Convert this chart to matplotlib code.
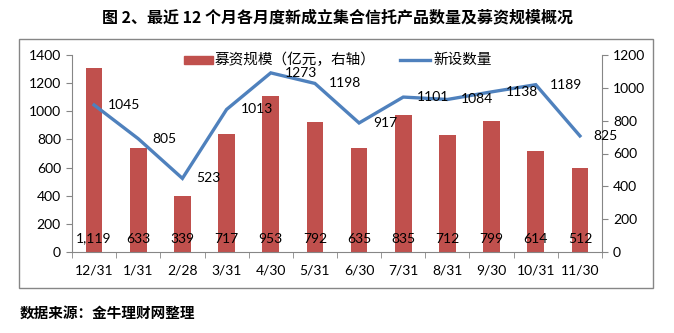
import matplotlib
matplotlib.use("Agg")
import matplotlib.pyplot as plt
from matplotlib.patches import Rectangle
import numpy as np

plt.rcParams['font.family'] = ['Noto Sans CJK SC', 'DejaVu Sans']

months = ["12/31", "1/31", "2/28", "3/31", "4/30", "5/31", "6/30", "7/31", "8/31", "9/30", "10/31", "11/30"]
scale = [1119, 633, 339, 717, 953, 792, 635, 835, 712, 799, 614, 512]      # 募资规模（亿元，右轴）
count = [1045, 805, 523, 1013, 1273, 1198, 917, 1101, 1084, 1138, 1189, 825]  # 新设数量
left_ticks = [0, 200, 400, 600, 800, 1000, 1200, 1400]
right_ticks = [0, 200, 400, 600, 800, 1000, 1200]

title = "图 2、最近 12 个月各月度新成立集合信托产品数量及募资规模概况"
source = "数据来源：金牛理财网整理"
bar_name = "募资规模（亿元，右轴）"
line_name = "新设数量"

num_font = "Lato"
red = "#C0504D"
blue = "#4F81BD"
grey = "#868686"

fig = plt.figure(figsize=(6.74, 3.33), dpi=100)
W, H = 674, 333
ax = fig.add_axes([72 / W, 1 - 252 / H, (602 - 72) / W, (252 - 55) / H])
ax2 = ax.twinx()

x = np.arange(len(months))
ax2.bar(x, scale, width=0.38, color=red, zorder=2)
ax.plot(x, count, color=blue, lw=2.4, zorder=3, solid_joinstyle='miter')
ax.set_zorder(ax2.get_zorder() + 1)
ax.patch.set_visible(False)

ax.set_xlim(-0.5, len(months) - 0.5)
ax.set_ylim(0, 1400)
ax2.set_ylim(0, 1200)
ax.set_yticks(left_ticks)
ax2.set_yticks(right_ticks)
ax.set_xticks(x)
ax.set_xticklabels(months)
ax.set_xticks(np.arange(-0.5, len(months)), minor=True)
ax.tick_params(axis='x', which='major', length=0, pad=9)
ax.tick_params(axis='x', which='minor', length=4, color=grey)
ax.tick_params(axis='y', length=4, color=grey, pad=4)
ax2.tick_params(axis='y', length=4, color=grey, pad=4)

for a in (ax, ax2):
    for s in a.spines.values():
        s.set_color(grey)
    a.spines['top'].set_visible(False)
    for lab in a.get_yticklabels() + a.get_xticklabels():
        lab.set_fontfamily(num_font)
        lab.set_fontsize(10)
ax2.spines['left'].set_visible(False)
ax2.spines['bottom'].set_visible(False)
ax.spines['right'].set_visible(False)

# bar labels
for xi, v in zip(x, scale):
    ax2.text(xi, 82, f"{v:,}", ha='center', va='center', fontsize=10, family=num_font, zorder=4)
# line labels
for xi, v in zip(x, count):
    ax.annotate(str(v), (xi, v), xytext=(10, 0), textcoords='offset points',
                ha='left', va='center', fontsize=10, family=num_font, zorder=5)

# legend
fig.patches.append(Rectangle((184 / W, 1 - 64 / H), 29 / W, 8 / H, transform=fig.transFigure,
                             color=red, figure=fig))
fig.text(215 / W, 1 - 60 / H, bar_name, fontsize=10.5, va='center', ha='left')
fig.lines.append(plt.Line2D([400 / W, 430 / W], [1 - 60 / H, 1 - 60 / H], transform=fig.transFigure,
                            color=blue, lw=2.4, figure=fig))
fig.text(433 / W, 1 - 60 / H, line_name, fontsize=10.5, va='center', ha='left')

# outer frame
fig.patches.append(Rectangle((19 / W, 1 - 288 / H), (653 - 19) / W, (288 - 39) / H,
                             transform=fig.transFigure, fill=False, edgecolor=grey, lw=1, figure=fig))

fig.text(337 / W, 1 - 17 / H, title, ha='center', va='center', fontsize=11.5, fontweight='bold')
fig.text(20 / W, 1 - 313 / H, source, ha='left', va='center', fontsize=10.5, fontweight='bold')

fig.savefig("out.png", dpi=100)
